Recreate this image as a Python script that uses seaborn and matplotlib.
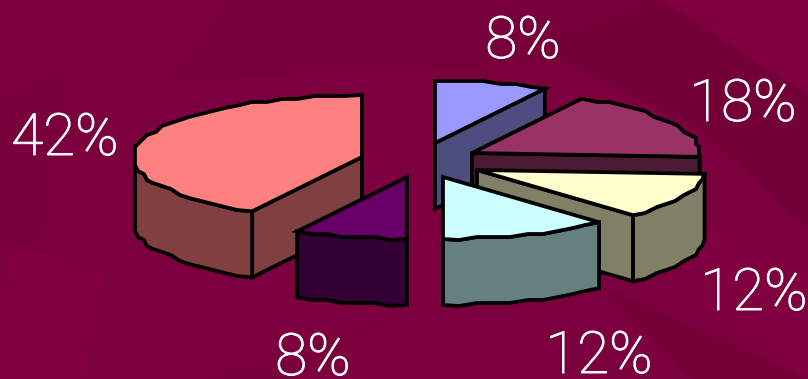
import numpy as np
import matplotlib
matplotlib.use("Agg")
import matplotlib.pyplot as plt
import matplotlib.patheffects as pe
import seaborn as sns

# Share of each slice, clockwise from twelve o'clock
shares = [8, 18, 12, 12, 8, 42]
top_colors = ["#9999ff", "#993366", "#ffffcc", "#ccffff", "#660066", "#ff8080"]

# Exploded slice tips and label anchors (centre x, baseline y), in pixels
tips = [(435, 143), (472, 153), (477, 170), (443, 177), (407, 177), (362, 157)]
label_anchors = [(523, 58), (743, 121), (754, 310), (599, 373), (313, 375), (65, 155)]

RX, RY, DEPTH = 228, 62, 66
EDGE = "black"
LW = 2.7

sns.set_theme(style="white")
plt.rcParams["font.family"] = ["Roboto", "DejaVu Sans"]

fig = plt.figure(figsize=(8.08, 3.79), dpi=100)
ax = fig.add_axes([0, 0, 1, 1])
ax.set_xlim(0, 808)
ax.set_ylim(379, 0)
ax.axis("off")

# Slide background: flat crimson with faint angular facets
fig.patch.set_facecolor("#7c003d")
facets = [
    ([230, 808, 808, 520, 170], [0, 0, 20, 65, 80], "#77003a"),
    ([660, 808, 808], [0, 0, 95], "#80003f"),
    ([540, 660, 808, 808, 700], [50, 0, 95, 230, 130], "#740038"),
    ([0, 70, 40, 0], [100, 60, 260, 250], "#79003b"),
    ([12, 105, 85, 0, 0], [245, 268, 379, 379, 300], "#80003f"),
    ([700, 808, 808, 690], [225, 270, 379, 300], "#7f003e"),
    ([600, 808, 808, 690], [285, 379, 379, 379], "#750038"),
    ([290, 410, 200], [379, 310, 379], "#79003b"),
]
for xs, ys, colour in facets:
    ax.fill(xs, ys, color=colour, lw=0, zorder=0)


def snapped(points, step=3.0):
    # Coarse raster rounding gives the rim its slightly uneven line
    return np.round(points / step) * step


def outline(x, y, colour, z):
    ax.fill(x, y, facecolor=colour, edgecolor=EDGE, lw=LW, joinstyle="miter", zorder=z)


palette = sns.color_palette(top_colors)
fractions = np.array(shares) / sum(shares)
ends = np.cumsum(fractions) * 2 * np.pi
starts = ends - fractions * 2 * np.pi

# Painter's order: back slices first, the purple slice in front of the salmon one
draw_order = [0, 1, 2, 3, 5, 4]
for z, i in enumerate(draw_order):
    cx, cy = tips[i]
    a0, a1 = starts[i], ends[i]
    top = palette[i]
    side = tuple(np.array(top) * 0.5)
    base = z * 10 + 1

    count = max(int(np.degrees(a1 - a0) / 4), 3)
    theta = np.linspace(a0, a1, count + 1)
    rim_x = snapped(cx + RX * np.sin(theta))
    rim_y = snapped(cy - RY * np.cos(theta))
    rim_x[[0, -1]] = cx + RX * np.sin(theta[[0, -1]])
    rim_y[[0, -1]] = cy - RY * np.cos(theta[[0, -1]])

    # Cut faces that look towards the viewer
    for angle, visible in ((a1, np.sin(a1) > 1e-6), (a0, np.sin(a0) < -1e-6)):
        if visible:
            ex, ey = cx + RX * np.sin(angle), cy - RY * np.cos(angle)
            outline([cx, ex, ex, cx], [cy, ey, ey + DEPTH, cy + DEPTH], side, base)

    # Outer wall on the near half of the rim
    front = np.cos(theta) <= 1e-6
    if front.any():
        fx, fy = rim_x[front], rim_y[front]
        outline(np.r_[fx, fx[::-1]], np.r_[fy, fy[::-1] + DEPTH], side, base + 1)

    # Top surface
    outline(np.r_[cx, rim_x], np.r_[cy, rim_y], top, base + 2)

for value, (tx, ty) in zip(shares, label_anchors):
    ax.text(tx, ty, f"{value}%", color="white", fontsize=42, fontweight="light",
            ha="center", va="baseline", zorder=200,
            path_effects=[pe.withStroke(linewidth=0.7, foreground="white")])

fig.savefig("out.png", dpi=100, facecolor=fig.get_facecolor())
